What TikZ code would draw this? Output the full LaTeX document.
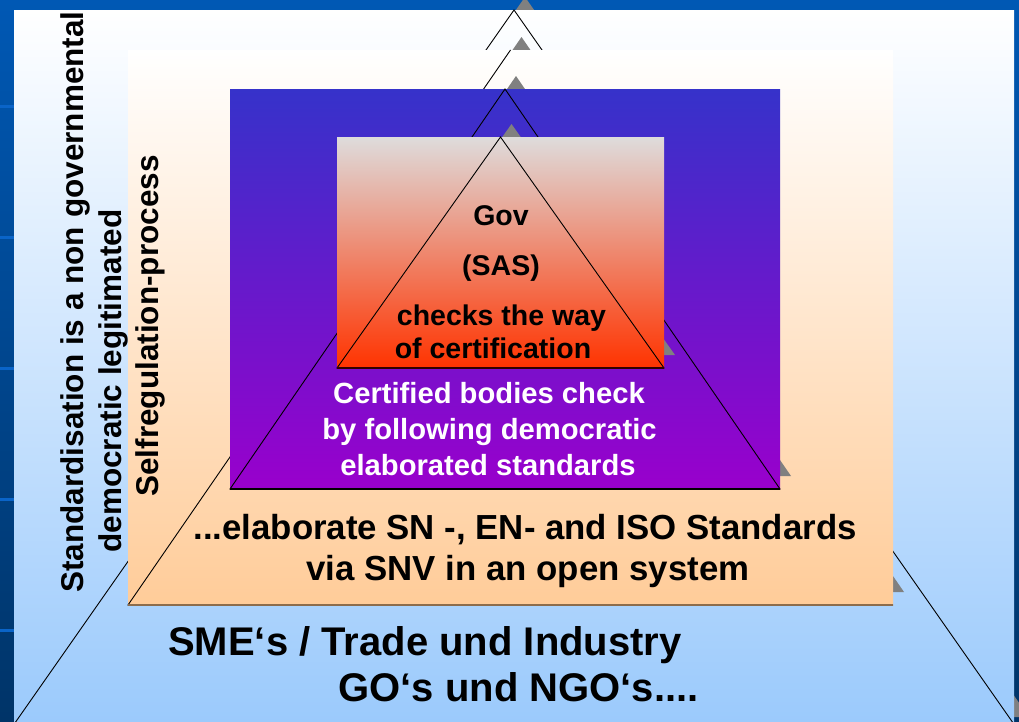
\documentclass[tikz,border=0pt]{standalone}
\usepackage{fontspec}
\setmainfont{Liberation Sans}
\usetikzlibrary{calc}
\definecolor{slidetop}{RGB}{0,88,180}
\definecolor{slidebot}{RGB}{0,52,104}
\definecolor{slideline}{RGB}{10,100,200}
\definecolor{skyblue}{RGB}{155,202,252}
\definecolor{peach}{RGB}{255,204,153}
\definecolor{peachedge}{RGB}{140,108,76}
\definecolor{royal}{RGB}{54,50,202}
\definecolor{violet}{RGB}{153,0,204}
\definecolor{paleg}{RGB}{222,220,220}
\definecolor{flame}{RGB}{255,51,0}
\definecolor{shadowgrey}{RGB}{128,128,128}
\begin{document}
\begin{tikzpicture}[x=1pt,y=-1pt]
\tikzset{
  outline/.style={draw=black, line width=0.9pt},
  shadowtri/.style={fill=shadowgrey},
  lbl/.style={font=\bfseries, anchor=base, inner sep=0pt},
  sz/.style={font=\bfseries\fontsize{#1}{#1}\selectfont},
}
\clip (0,0) rectangle (1019,721);

% slide background with its faint rulings
\shade[top color=slidetop, bottom color=slidebot] (0,0) rectangle (1019,721);
\foreach \yy in {105,236,367,498,629}
  \fill[slideline] (0,\yy) rectangle (14,\yy+3);

% corners of the four nested triangles
\coordinate (aT) at (514,10);  \coordinate (aL) at (10,730);  \coordinate (aR) at (1018,730);
\coordinate (bT) at (510.5,50);\coordinate (bL) at (128,605); \coordinate (bR) at (893,605);
\coordinate (cT) at (505,89);  \coordinate (cL) at (230,489); \coordinate (cR) at (780,489);
\coordinate (dT) at (500.5,137);\coordinate (dL) at (337,368);\coordinate (dR) at (664,368);

% outer layer
\fill[shadowtri] ($(aT)+(11,-13)$) -- ($(aL)+(11,-13)$) -- ($(aR)+(11,-13)$) -- cycle;
\shade[top color=white, bottom color=skyblue] (14,10) rectangle (1014,722);
\draw[outline] (aT) -- (aL) -- (aR) -- cycle;

% peach layer
\fill[shadowtri] ($(bT)+(11,-13)$) -- ($(bL)+(11,-13)$) -- ($(bR)+(11,-13)$) -- cycle;
\shade[top color=white, bottom color=peach] (128,50) rectangle (893,605);
\draw[outline] (bT) -- (bL) -- (bR);
\draw[peachedge, line width=2pt] (bL) -- (bR);

% violet layer
\fill[shadowtri] ($(cT)+(11,-13)$) -- ($(cL)+(11,-13)$) -- ($(cR)+(11,-13)$) -- cycle;
\shade[top color=royal, bottom color=violet] (230,89) rectangle (780,489);
\draw[outline] (cT) -- (cL) -- (cR) -- cycle;
\draw[black, line width=1.5pt] (cL) -- (cR);

% red layer
\fill[shadowtri] ($(dT)+(11,-13)$) -- ($(dL)+(11,-13)$) -- ($(dR)+(11,-13)$) -- cycle;
\shade[top color=paleg, bottom color=flame] (337,137) rectangle (664,368);
\draw[outline] (dT) -- (dL) -- (dR) -- cycle;
\draw[black!80!red, line width=1.5pt] (dL) -- (dR);

% labels of the red layer
\node[lbl, sz=28.5] (gov) at (501,225) {Gov};
\node[lbl, sz=28.5] (sas) at (501,275) {(SAS)};
\node[lbl, sz=28.5] (chk) at (501.5,325) {checks the way};
\node[lbl, sz=28.5] (cert) at (493,358) {of certification};

% labels of the violet layer
\node[lbl, sz=29.2, text=white] (cb1) at (489,403) {Certified bodies check};
\node[lbl, sz=29.2, text=white] (cb2) at (489.5,439) {by following democratic};
\node[lbl, sz=29.2, text=white] (cb3) at (488,475) {elaborated standards};

% labels of the peach layer
\node[lbl, sz=34.8] (sn1) at (525,539) {...elaborate SN -, EN- and ISO Standards};
\node[lbl, sz=34.8] (sn2) at (528,580) {via SNV in an open system};

% labels at the base
\node[lbl, sz=40] (sme) at (425,655) {SME‘s / Trade und Industry};
\node[lbl, sz=40] (ngo) at (518.5,701) {GO‘s und NGO‘s....};

% side captions
\node[lbl, sz=31.5, rotate=90] (std1) at (83,302) {Standardisation is a non governmental};
\node[lbl, sz=31.5, rotate=90] (std2) at (121,381) {democratic legitimated};
\node[lbl, sz=31.5, rotate=90] (std3) at (158,326) {Selfregulation-process};
\end{tikzpicture}
\end{document}
